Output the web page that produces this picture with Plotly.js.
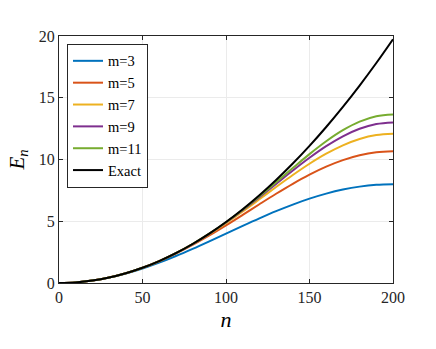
<!DOCTYPE html>
<html>
<head>
<meta charset="utf-8">
<script src="https://cdn.plot.ly/plotly-3.0.1.min.js"></script>
<style>
  html, body { margin: 0; padding: 0; background: #fff; }
  #plot { width: 436px; height: 349px; }
</style>
</head>
<body>
<div id="plot"></div>
<script>
// sample points along n
const n = [0, 10, 20, 30, 40, 50, 60, 70, 80, 90, 100, 110, 120, 130, 140, 150, 160, 170, 180, 190, 200];

// E_n for each stencil width m
const m3 = [0, 0.049, 0.196, 0.436, 0.764, 1.172, 1.649, 2.184, 2.764, 3.374, 4.000, 4.626, 5.236, 5.816, 6.351, 6.828, 7.236, 7.564, 7.804, 7.951, 8.000];
const m5 = [0, 0.049, 0.197, 0.444, 0.788, 1.229, 1.762, 2.383, 3.082, 3.849, 4.667, 5.517, 6.378, 7.225, 8.032, 8.771, 9.418, 9.948, 10.342, 10.585, 10.667];
const m7 = [0, 0.049, 0.197, 0.444, 0.789, 1.233, 1.775, 2.412, 3.141, 3.955, 4.844, 5.792, 6.777, 7.772, 8.743, 9.656, 10.470, 11.150, 11.662, 11.981, 12.089];
const m9 = [0, 0.049, 0.197, 0.444, 0.790, 1.234, 1.776, 2.417, 3.154, 3.984, 4.902, 5.894, 6.945, 8.027, 9.107, 10.141, 11.082, 11.881, 12.490, 12.873, 13.003];
const m11 = [0, 0.049, 0.197, 0.444, 0.790, 1.234, 1.776, 2.418, 3.157, 3.993, 4.922, 5.936, 7.023, 8.159, 9.312, 10.436, 11.476, 12.372, 13.065, 13.503, 13.653];
const exact = [0, 0.049, 0.197, 0.444, 0.790, 1.234, 1.777, 2.418, 3.158, 3.997, 4.935, 5.971, 7.106, 8.340, 9.672, 11.103, 12.633, 14.262, 15.989, 17.815, 19.739];

const names = ['m=3', 'm=5', 'm=7', 'm=9', 'm=11', 'Exact'];
const series = [m3, m5, m7, m9, m11, exact];
const colors = ['#0072BD', '#D95319', '#EDB120', '#7E2F8E', '#77AC30', '#000000'];

const serif = 'Liberation Serif';

const traces = series.map((y, i) => ({
  type: 'scatter',
  mode: 'lines',
  x: n,
  y: y,
  name: names[i],
  line: { color: colors[i], width: 2, shape: 'spline' }
}));

const axisBase = {
  showline: true,
  mirror: 'ticks',
  linecolor: '#262626',
  linewidth: 1,
  ticks: 'inside',
  ticklen: 4,
  tickcolor: '#262626',
  showgrid: true,
  gridcolor: '#ebebeb',
  gridwidth: 1,
  zeroline: false,
  tickfont: { family: serif, size: 16, color: '#262626' }
};

const layout = {
  width: 436,
  height: 349,
  font: { family: serif },
  margin: { l: 59, r: 43, t: 36, b: 66 },
  paper_bgcolor: '#ffffff',
  plot_bgcolor: '#ffffff',
  showlegend: true,
  legend: {
    x: 0.024, y: 0.968,
    xanchor: 'left', yanchor: 'top',
    bgcolor: '#ffffff',
    bordercolor: '#262626',
    borderwidth: 1,
    font: { family: serif, size: 14.5, color: '#000' },
    tracegroupgap: 0,
    itemwidth: 30
  },
  xaxis: Object.assign({}, axisBase, {
    range: [0, 200],
    tickvals: [0, 50, 100, 150, 200],
    title: { text: '<i>n</i>', font: { family: serif, size: 22, color: '#000' }, standoff: 6 }
  }),
  yaxis: Object.assign({}, axisBase, {
    range: [0, 20],
    tickvals: [0, 5, 10, 15, 20],
    title: { text: '<i>E</i><sub><i>n</i></sub>', font: { family: serif, size: 21, color: '#000' }, standoff: 8 }
  })
};

Plotly.newPlot('plot', traces, layout, { displayModeBar: false, staticPlot: true });
</script>
</body>
</html>
